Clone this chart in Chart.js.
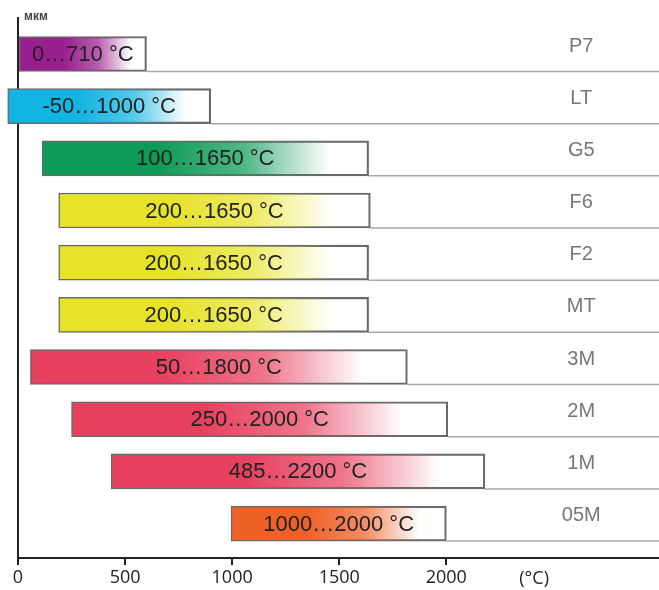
<!DOCTYPE html>
<html>
<head>
<meta charset="utf-8">
<script src="https://cdn.jsdelivr.net/npm/chart.js@4.4.1/dist/chart.umd.min.js"></script>
<style>
  html, body { margin: 0; padding: 0; background: #fff; }
  #wrap { width: 659px; height: 590px; }
</style>
</head>
<body>
<div id="wrap"><canvas id="rangeChart"></canvas></div>
<script>
// Données
const models = ['P7', 'LT', 'G5', 'F6', 'F2', 'MT', '3M', '2M', '1M', '05M'];
const rangeStart = [0, -48, 112, 190, 190, 190, 58, 250, 435, 995];
const rangeEnd = [600, 900, 1637, 1645, 1637, 1637, 1818, 2007, 2180, 2000];
const rangeText = ['0…710 °C', '-50…1000 °C', '100…1650 °C', '200…1650 °C', '200…1650 °C',
  '200…1650 °C', '50…1800 °C', '250…2000 °C', '485…2200 °C', '1000…2000 °C'];
const barColors = ['#9a1f8e', '#12b4e2', '#0e9b57', '#e6e327', '#e6e327',
  '#e6e327', '#e8405f', '#e8405f', '#e8405f', '#ee6127'];
const xTicks = [0, 500, 1000, 1500, 2000];

const rows = models.map((m, i) => ({ x: [rangeStart[i], rangeEnd[i]], y: i }));

// Gradient fill for each bar
function barGradient(c) {
  const chart = c.chart;
  if (!chart.chartArea) return barColors[c.dataIndex];
  const xs = chart.scales.x;
  const x0 = xs.getPixelForValue(rangeStart[c.dataIndex]);
  const x1 = xs.getPixelForValue(rangeEnd[c.dataIndex]);
  const g = chart.ctx.createLinearGradient(x0, 0, x1, 0);
  const col = barColors[c.dataIndex];
  g.addColorStop(0, col);
  g.addColorStop(0.35, col);
  g.addColorStop(0.62, col + 'b8');
  g.addColorStop(0.88, col + '00');
  g.addColorStop(1, 'rgba(255,255,255,0)');
  return g;
}

// Grey lines from bar end to the right edge + labels
const decorPlugin = {
  id: 'decor',
  beforeDatasetsDraw(chart) {
    const ctx = chart.ctx;
    const meta = chart.getDatasetMeta(0);
    const right = chart.chartArea.right;
    ctx.save();
    ctx.strokeStyle = '#a8a8a8';
    ctx.lineWidth = 1.5;
    meta.data.forEach(bar => {
      const yb = bar.y + bar.height / 2;
      ctx.beginPath();
      ctx.moveTo(bar.x, yb);
      ctx.lineTo(right, yb);
      ctx.stroke();
    });
    ctx.restore();
  },
  afterDatasetsDraw(chart) {
    const ctx = chart.ctx;
    const meta = chart.getDatasetMeta(0);
    const xs = chart.scales.x;
    ctx.save();
    ctx.textAlign = 'center';
    ctx.textBaseline = 'middle';
    meta.data.forEach((bar, i) => {
      ctx.fillStyle = '#222';
      ctx.font = '22px "Liberation Sans", Arial, sans-serif';
      ctx.fillText(rangeText[i], (bar.x + bar.base) / 2, bar.y + 1);
      ctx.fillStyle = '#777';
      ctx.font = '20px "Liberation Sans", Arial, sans-serif';
      ctx.fillText(models[i], xs.getPixelForValue(2630), bar.y - 8);
    });
    // unit labels
    ctx.fillStyle = '#222';
    ctx.font = '18px "Open Sans", sans-serif';
    ctx.fillText('(°C)', xs.getPixelForValue(2410), 579);
    ctx.fillStyle = '#444';
    ctx.font = 'bold 12px "Liberation Sans", Arial, sans-serif';
    ctx.textAlign = 'left';
    ctx.fillText('мкм', chart.chartArea.left + 6, 17);
    ctx.restore();
  }
};

const ctx = document.getElementById('rangeChart').getContext('2d');
new Chart(ctx, {
  type: 'bar',
  data: {
    datasets: [{
      data: rows,
      backgroundColor: barGradient,
      borderColor: '#6a6a6a',
      borderWidth: 1.5,
      borderSkipped: false,
      barThickness: 35,
      clip: false
    }]
  },
  options: {
    indexAxis: 'y',
    responsive: true,
    maintainAspectRatio: false,
    animation: false,
    layout: { padding: { left: 18, right: 0, top: 18, bottom: 0 } },
    plugins: { legend: { display: false }, tooltip: { enabled: false } },
    scales: {
      x: {
        type: 'linear',
        min: 0,
        max: 2993,
        afterBuildTicks: s => { s.ticks = xTicks.map(v => ({ value: v })); },
        afterFit: s => { s.height = 32; },
        ticks: {
          color: '#222',
          padding: 2,
          callback: v => String(v),
          font: { family: '"Open Sans", sans-serif', size: 18 }
        },
        grid: { drawOnChartArea: false, drawTicks: true, tickLength: 7, color: '#222', lineWidth: 2 },
        border: { display: true, color: '#222', width: 2 }
      },
      y: {
        type: 'linear',
        reverse: true,
        offset: false,
        min: -0.69,
        max: 9.66,
        afterFit: s => { s.width = 0; },
        ticks: { display: false },
        grid: { display: false, offset: false },
        border: { display: true, color: '#222', width: 2 }
      }
    }
  },
  plugins: [decorPlugin]
});
</script>
</body>
</html>
